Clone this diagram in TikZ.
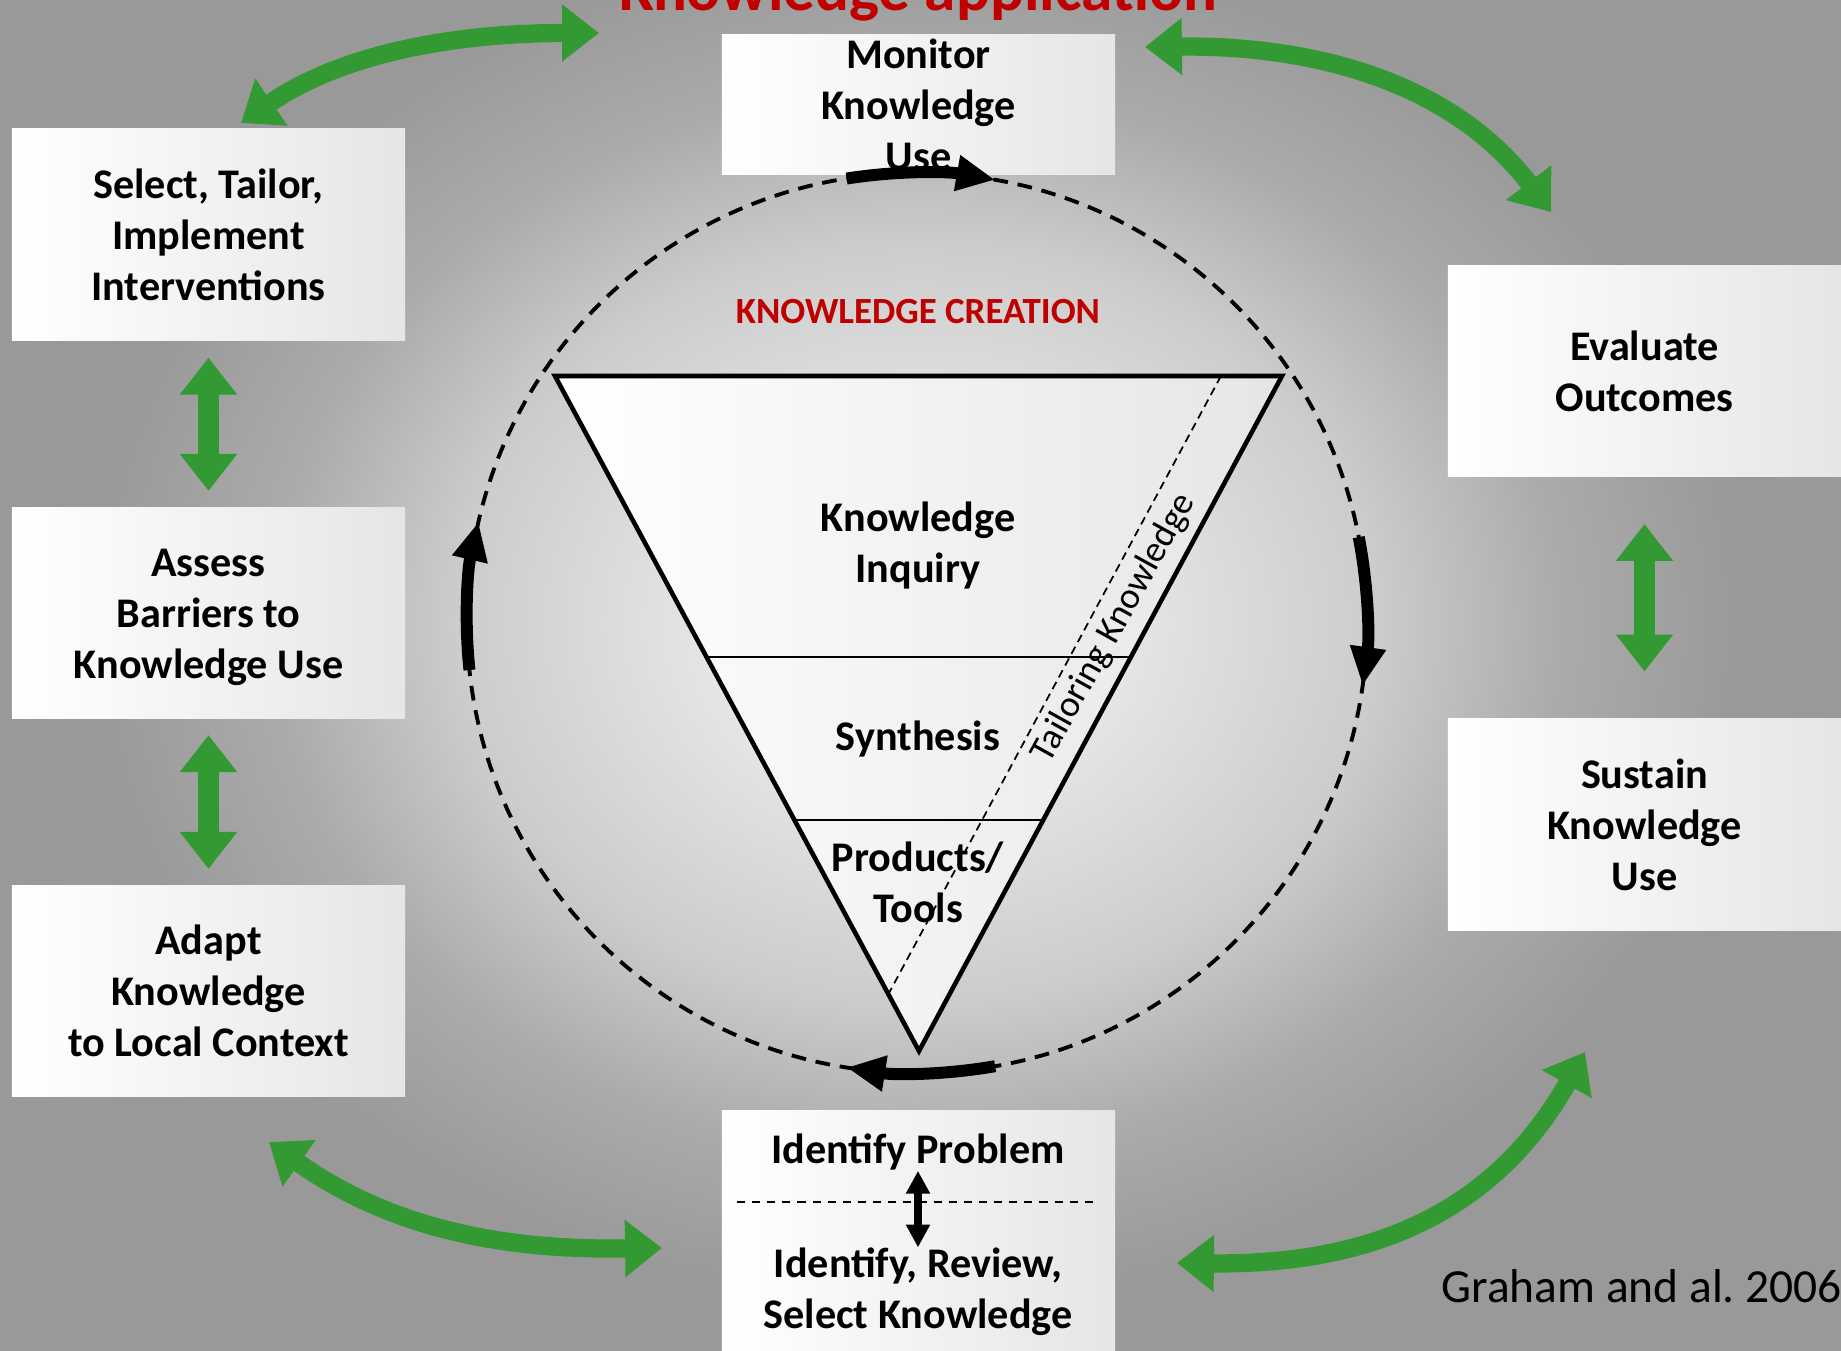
\documentclass[tikz,border=0pt]{standalone}
\usepackage{fontspec}
\setmainfont{Carlito}
\usetikzlibrary{arrows.meta,calc,positioning}
\definecolor{kaRed}{RGB}{192,0,0}
\definecolor{kaGreen}{RGB}{51,153,51}
\definecolor{bgA}{gray}{0.93}
\definecolor{bgB}{gray}{0.91}
\definecolor{bgC}{gray}{0.80}
\definecolor{bgD}{gray}{0.67}
\definecolor{bgE}{gray}{0.60}
\pgfdeclareradialshading{bgGlow}{\pgfpoint{0bp}{0bp}}{color(0bp)=(bgA); color(4bp)=(bgB); color(10bp)=(bgC); color(14bp)=(bgD); color(18bp)=(bgE); color(50bp)=(bgE)}

\begin{document}
\begin{tikzpicture}[x = 0.01cm, y = 0.01cm,
  stage/.style = {minimum width = 3.93cm, minimum height = 2.11cm, inner sep = 0pt, align = center,
    left color = white, right color = black!10, font = \bfseries\fontsize{12}{14.5}\selectfont},
  stagetxt/.style = {inner sep = 0pt, align = center, font = \bfseries\fontsize{12}{14.5}\selectfont},
  greenArrow/.style = {kaGreen, line width = 5.2pt,
    {Triangle[length = 10.5pt, width = 15.6pt]}-{Triangle[length = 10.5pt, width = 15.6pt]}},
  cycleArrow/.style = {line width = 3.4pt, -{Triangle[length = 11pt, width = 9.6pt]}}]
\useasboundingbox (0,0) rectangle (1841,-1351);
\clip (0,0) rectangle (1841,-1351);
\fill[bgE] (0,0) rectangle (1841,-1351);
\shade[shading = bgGlow] (917,-623) ellipse (1150 and 950);

\node[kaRed, anchor = base, font = \bfseries\fontsize{18}{21}\selectfont] (title) at (918,-10) {Knowledge application};

% Knowledge application steps
\node[stage, minimum height = 1.39cm] (monitor) at (918.5,-104.5) {Monitor\\Knowledge\\Use};
\node[stage] (select) at (208.5,-234.5) {Select, Tailor,\\Implement\\Interventions};
\node[stage] (assess) at (208.5,-613) {};
\node[stagetxt] (assessT) at (208.5,-617) {Assess\\Barriers to\\Knowledge Use};
\node[stage] (adapt) at (208.5,-991) {Adapt\\Knowledge\\to Local Context};
\node[stage] (evaluate) at (1644.5,-371) {Evaluate\\Outcomes};
\node[stage] (sustain) at (1644.5,-824.5) {Sustain\\Knowledge\\Use};
\node[stage, minimum height = 2.9cm] (identify) at (918.5,-1256) {};
\node[stagetxt] (problem) at (918,-1152) {Identify Problem};
\node[stagetxt] (review) at (918,-1292) {Identify, Review,\\Select Knowledge};
\draw[dash pattern = on 2.3pt off 2pt, line width = 0.6pt] (737,-1202) -- (1095,-1202);
\draw[line width = 2pt, {Triangle[length = 6.5pt, width = 6.5pt]}-{Triangle[length = 6.5pt, width = 6.5pt]}] (problem) -- (review);

% Green links between steps
\coordinate (tlA) at (241,-123);
\coordinate (tlB) at (599,-33);
\coordinate (trA) at (1145,-47);
\coordinate (trB) at (1551,-212);
\coordinate (blA) at (269,-1142);
\coordinate (blB) at (662,-1248);
\coordinate (brA) at (1177,-1263);
\coordinate (brB) at (1585,-1052);
\draw[greenArrow] (tlA) .. controls (340,-55) and (450,-33) .. (tlB);
\draw[greenArrow] (trA) .. controls (1310,-45) and (1450,-80) .. (trB);
\draw[greenArrow] (blA) .. controls (400,-1235) and (520,-1250) .. (blB);
\draw[greenArrow] (brA) .. controls (1360,-1265) and (1490,-1220) .. (brB);
\draw[greenArrow, line width = 6pt] ([yshift = -4.8pt]select.south) -- ([yshift = 4.5pt]assess.north);
\draw[greenArrow, line width = 6pt] ([yshift = -4.5pt]assess.south) -- ([yshift = 4.5pt]adapt.north);
\draw[greenArrow, line width = 6pt] ([yshift = -13.3pt]evaluate.south) -- ([yshift = 13.3pt]sustain.north);

% Action cycle
\coordinate (cycC) at (917,-623);
\draw[line width = 1.1pt, dash pattern = on 4.2pt off 2.8pt] (cycC) circle (450);
\draw[cycleArrow] ($(cycC)+(99:450)$) arc (99:80:450);
\draw[cycleArrow] ($(cycC)+(11:450)$) arc (11:-8:450);
\draw[cycleArrow] ($(cycC)+(-80:450)$) arc (-80:-99:450);
\draw[cycleArrow] ($(cycC)+(186:450)$) arc (186:167:450);

% Knowledge creation funnel
\coordinate (tl) at (555,-376);
\coordinate (tr) at (1282,-376);
\coordinate (tb) at (919,-1051);
\draw[line width = 1.3pt, left color = white, right color = black!10] (tl) -- (tr) -- (tb) -- cycle;
\draw[line width = 0.5pt] ($(tl)!0.416!(tb)$) -- ($(tr)!0.416!(tb)$);
\draw[line width = 0.5pt] ($(tl)!0.658!(tb)$) -- ($(tr)!0.658!(tb)$);
\draw[line width = 0.5pt, dash pattern = on 2.3pt off 1.5pt] ($(tl)!0.916!(tr)$) -- (889,-993);
\node[kaRed, font = \bfseries\fontsize{10.5}{12}\selectfont] (creation) at (918,-312) {KNOWLEDGE CREATION};
\node[stagetxt] (inquiry) at (918,-546) {Knowledge\\Inquiry};
\node[stagetxt] (synthesis) at (918,-739) {Synthesis};
\node[stagetxt] (products) at (918,-882) {Products/\\Tools};
\node[rotate = 61, font = \fontsize{10.5}{12}\selectfont] (tailoring) at (1114,-628) {Tailoring Knowledge};

\node[anchor = base west, font = \fontsize{13.5}{16}\selectfont] (graham) at (1429,-1302) {Graham and al.\ 2006};
\end{tikzpicture}
\end{document}
